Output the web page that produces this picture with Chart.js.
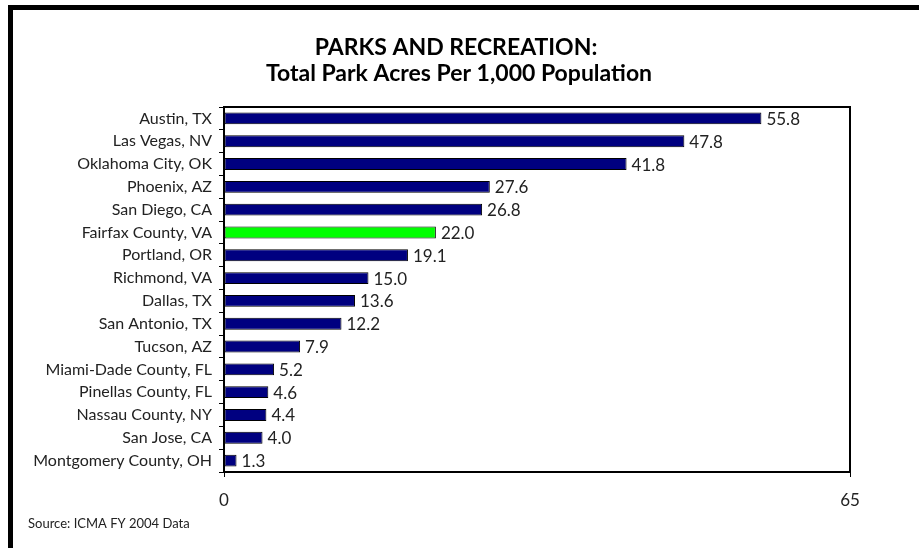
<!DOCTYPE html>
<html>
<head>
<meta charset="utf-8">
<script src="https://cdn.jsdelivr.net/npm/chart.js@4.4.1/dist/chart.umd.min.js"></script>
<style>
  html, body { margin: 0; padding: 0; background: #fff; }
  #wrap { width: 919px; height: 548px; position: relative; }
</style>
</head>
<body>
<div id="wrap"><canvas id="c" width="919" height="548"></canvas></div>
<script>
const categories = ["Austin, TX", "Las Vegas, NV", "Oklahoma City, OK", "Phoenix, AZ", "San Diego, CA",
  "Fairfax County, VA", "Portland, OR", "Richmond, VA", "Dallas, TX", "San Antonio, TX", "Tucson, AZ",
  "Miami-Dade County, FL", "Pinellas County, FL", "Nassau County, NY", "San Jose, CA", "Montgomery County, OH"];
const acresPer1000 = [55.8, 47.8, 41.8, 27.6, 26.8, 22.0, 19.1, 15.0, 13.6, 12.2, 7.9, 5.2, 4.6, 4.4, 4.0, 1.3];
const highlighted = ["Fairfax County, VA"];
const xTickValues = [0, 65];
const titleLines = ["PARKS AND RECREATION:", "Total Park Acres Per 1,000 Population"];
const sourceNote = "Source: ICMA FY 2004 Data";

const FONT = "Lato, 'Open Sans', sans-serif";
const TEXT = "#222";

const framePlugin = {
  id: 'frame',
  beforeDraw(chart) {
    const ctx = chart.ctx;
    ctx.save();
    ctx.fillStyle = '#fff';
    ctx.fillRect(0, 0, chart.width, chart.height);
    ctx.fillStyle = '#000';
    ctx.fillRect(8, 5, chart.width - 8, 5);
    ctx.fillRect(8, 5, 5, chart.height - 5);
    // title
    ctx.fillStyle = '#000';
    ctx.font = "bold 23px " + FONT;
    ctx.textAlign = 'center';
    ctx.textBaseline = 'middle';
    ctx.fillText(titleLines[0], 456, 48);
    ctx.fillText(titleLines[1], 459, 74);
    ctx.restore();
  },
  afterDatasetsDraw(chart) {
    const ctx = chart.ctx;
    const a = chart.chartArea;
    ctx.save();
    // plot border
    ctx.strokeStyle = '#000';
    ctx.lineWidth = 2;
    ctx.strokeRect(a.left, a.top, a.right - a.left, a.bottom - a.top);
    // value labels
    const meta = chart.getDatasetMeta(0);
    ctx.fillStyle = TEXT;
    ctx.font = "17px " + FONT;
    ctx.textAlign = 'left';
    ctx.textBaseline = 'middle';
    meta.data.forEach((bar, i) => {
      ctx.fillText(acresPer1000[i].toFixed(1), bar.x + 5, bar.y + 1);
    });
    // source note
    ctx.font = "13px " + FONT;
    ctx.fillText(sourceNote, 28, 524);
    ctx.restore();
  }
};

new Chart(document.getElementById('c'), {
  type: 'bar',
  data: {
    labels: categories,
    datasets: [{
      data: acresPer1000,
      backgroundColor: categories.map(c => highlighted.includes(c) ? '#00FF00' : '#000080'),
      borderColor: '#000',
      borderWidth: 1,
      borderSkipped: false,
      barPercentage: 0.52,
      categoryPercentage: 1.0
    }]
  },
  options: {
    indexAxis: 'y',
    responsive: false,
    animation: false,
    devicePixelRatio: 1,
    layout: { padding: { left: 12, right: 69, top: 107, bottom: 0 } },
    plugins: {
      legend: { display: false },
      tooltip: { enabled: false },
      title: { display: false }
    },
    scales: {
      x: {
        type: 'linear',
        min: 0,
        max: 65,
        afterBuildTicks(scale) { scale.ticks = xTickValues.map(v => ({ value: v })); },
        afterFit(scale) { scale.height = 76; },
        grid: { drawOnChartArea: false, drawTicks: true, tickLength: 5, color: '#000', lineWidth: 1 },
        border: { display: false },
        ticks: { color: TEXT, font: { family: FONT, size: 17 }, padding: 13, maxRotation: 0 }
      },
      y: {
        afterFit(scale) { scale.width = 212; },
        grid: { drawOnChartArea: false, drawTicks: true, tickLength: 5, color: '#000', lineWidth: 1, offset: true },
        border: { display: false },
        ticks: { color: TEXT, font: { family: FONT, size: 16 }, padding: 7, autoSkip: false }
      }
    }
  },
  plugins: [framePlugin]
});
</script>
</body>
</html>
